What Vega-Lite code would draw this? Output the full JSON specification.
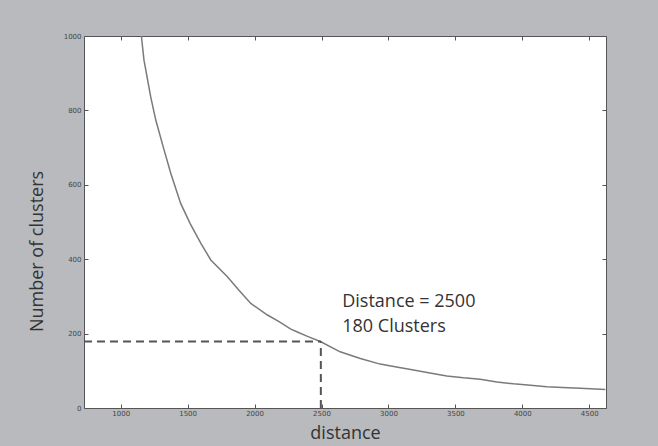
{
  "$schema": "https://vega.github.io/schema/vega-lite/v6.json",
  "width": 522,
  "height": 372,
  "autosize": {"type": "none"},
  "padding": {"left": 84, "top": 36, "right": 52, "bottom": 38},
  "background": "#b9babd",
  "config": {
    "view": {"fill": "white", "stroke": "#555555", "strokeWidth": 1},
    "axis": {"grid": false, "domain": false, "tickColor": "#555555", "tickSize": -4, "labelFontSize": 7, "labelColor": "#444444", "labelFont": "DejaVu Sans", "titleFont": "Open Sans", "titleFontWeight": "normal", "titleFontSize": 18, "titleColor": "#333333", "format": "d"}
  },
  "datasets": {
    "curve": [
      {"distance": 1140, "clusters": 1060},
      {"distance": 1154, "clusters": 1002},
      {"distance": 1174, "clusters": 935},
      {"distance": 1224, "clusters": 837},
      {"distance": 1262, "clusters": 774},
      {"distance": 1324, "clusters": 694},
      {"distance": 1374, "clusters": 631},
      {"distance": 1448, "clusters": 550},
      {"distance": 1520, "clusters": 495},
      {"distance": 1598, "clusters": 443},
      {"distance": 1673, "clusters": 398},
      {"distance": 1797, "clusters": 353},
      {"distance": 1880, "clusters": 318},
      {"distance": 1972, "clusters": 281},
      {"distance": 2096, "clusters": 250},
      {"distance": 2183, "clusters": 232},
      {"distance": 2271, "clusters": 212},
      {"distance": 2315, "clusters": 205},
      {"distance": 2400, "clusters": 192},
      {"distance": 2495, "clusters": 178},
      {"distance": 2639, "clusters": 151},
      {"distance": 2790, "clusters": 133},
      {"distance": 2938, "clusters": 118},
      {"distance": 3060, "clusters": 110},
      {"distance": 3187, "clusters": 102},
      {"distance": 3310, "clusters": 94},
      {"distance": 3436, "clusters": 86},
      {"distance": 3560, "clusters": 81},
      {"distance": 3685, "clusters": 77},
      {"distance": 3810, "clusters": 70},
      {"distance": 3934, "clusters": 65},
      {"distance": 4060, "clusters": 61},
      {"distance": 4184, "clusters": 57},
      {"distance": 4300, "clusters": 55},
      {"distance": 4433, "clusters": 53},
      {"distance": 4620, "clusters": 50}
    ],
    "guides": [
      {"x": 726, "x2": 2495, "y": 179, "y2": 179},
      {"x": 2495, "x2": 2495, "y": 0, "y2": 179}
    ],
    "notes": [
      {"x": 2655, "y": 285, "label": "Distance = 2500"},
      {"x": 2655, "y": 218, "label": "180 Clusters"}
    ]
  },
  "layer": [
    {
      "data": {"name": "curve"},
      "mark": {"type": "line", "color": "#7a7a7a", "strokeWidth": 1.5, "clip": true},
      "encoding": {
        "x": {"field": "distance", "type": "quantitative", "scale": {"domain": [726, 4625], "nice": false, "zero": false},
              "axis": {"orient": "bottom", "title": "distance", "values": [1000, 1500, 2000, 2500, 3000, 3500, 4000, 4500], "labelPadding": 5, "titleY": 25, "titleBaseline": "middle"}},
        "y": {"field": "clusters", "type": "quantitative", "scale": {"domain": [0, 1000], "nice": false},
              "axis": {"orient": "left", "title": "Number of clusters", "values": [0, 200, 400, 600, 800, 1000], "labelPadding": 7, "titleX": -47, "titleY": 215, "titleBaseline": "middle", "titleAngle": -90}}
      }
    },
    {
      "data": {"name": "guides"},
      "mark": {"type": "rule", "color": "#555555", "strokeWidth": 2, "strokeDash": [8, 5]},
      "encoding": {
        "x": {"field": "x", "type": "quantitative", "axis": {"orient": "top", "title": null, "labels": false, "values": [1000, 1500, 2000, 2500, 3000, 3500, 4000, 4500]}},
        "x2": {"field": "x2"},
        "y": {"field": "y", "type": "quantitative", "axis": {"orient": "right", "title": null, "labels": false, "values": [0, 200, 400, 600, 800, 1000]}},
        "y2": {"field": "y2"}
      }
    },
    {
      "data": {"name": "notes"},
      "mark": {"type": "text", "align": "left", "baseline": "middle", "font": "Open Sans", "fontSize": 18, "color": "#333333"},
      "encoding": {
        "x": {"field": "x", "type": "quantitative", "axis": null},
        "y": {"field": "y", "type": "quantitative", "axis": null},
        "text": {"field": "label"}
      }
    }
  ],
  "resolve": {"axis": {"x": "independent", "y": "independent"}}
}
